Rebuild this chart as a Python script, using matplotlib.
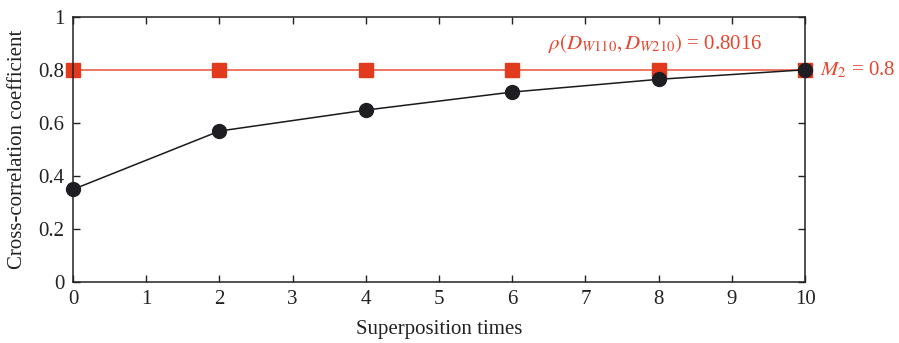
import matplotlib
matplotlib.use("Agg")
import matplotlib.pyplot as plt

plt.rcParams['font.family'] = ['Liberation Serif', 'DejaVu Serif']
plt.rcParams['mathtext.fontset'] = 'stix'

x_vals = [0, 2, 4, 6, 8, 10]
corr_vals = [0.349, 0.569, 0.648, 0.716, 0.764, 0.800]
m2_vals = [0.8, 0.8, 0.8, 0.8, 0.8, 0.8]
m2_level = 0.8

fig = plt.figure(figsize=(8.99, 3.43), dpi=100)
ax = fig.add_axes([0.0812, 0.1778, 0.8143, 0.7735])

red_line = '#ea6a55'
red_mark = '#e23a1c'
red_text = '#e8452c'

ax.axhline(m2_level, color=red_line, lw=1.3, zorder=1)
ax.plot(x_vals, m2_vals, ls='none', marker='s', ms=10, color=red_mark, zorder=2, clip_on=False)
ax.plot(x_vals, corr_vals, color='#1a1a1a', lw=1.1, marker='o', ms=10,
        markerfacecolor='#1e1e22', markeredgecolor='#1e1e22', zorder=3, clip_on=False)

ax.set_xlim(0, 10)
ax.set_ylim(0, 1)
ax.set_xticks(range(0, 11))
ax.set_yticks([0, 0.2, 0.4, 0.6, 0.8, 1])
ax.set_yticklabels(['0', '0.2', '0.4', '0.6', '0.8', '1'])
ax.tick_params(direction='in', length=5, width=1, labelsize=15, colors='#222222',
               top=True, right=True, pad=6)
for s in ax.spines.values():
    s.set_linewidth(1.1)
    s.set_color('#222222')

ax.set_xlabel('Superposition times', fontsize=15, color='#222222', labelpad=8)
ax.set_ylabel('Cross-correlation coefficient', fontsize=15, color='#222222', labelpad=8)

ax.text(7.95, 0.90, r'$\rho(D_{W110}, D_{W210})$ = 0.8016', color=red_text,
        fontsize=15, ha='center', va='center')
ax.text(10.2, 0.8, r'$M_2$ = 0.8', color=red_text, fontsize=15,
        ha='left', va='center', clip_on=False)

fig.savefig('out.png', dpi=100)
